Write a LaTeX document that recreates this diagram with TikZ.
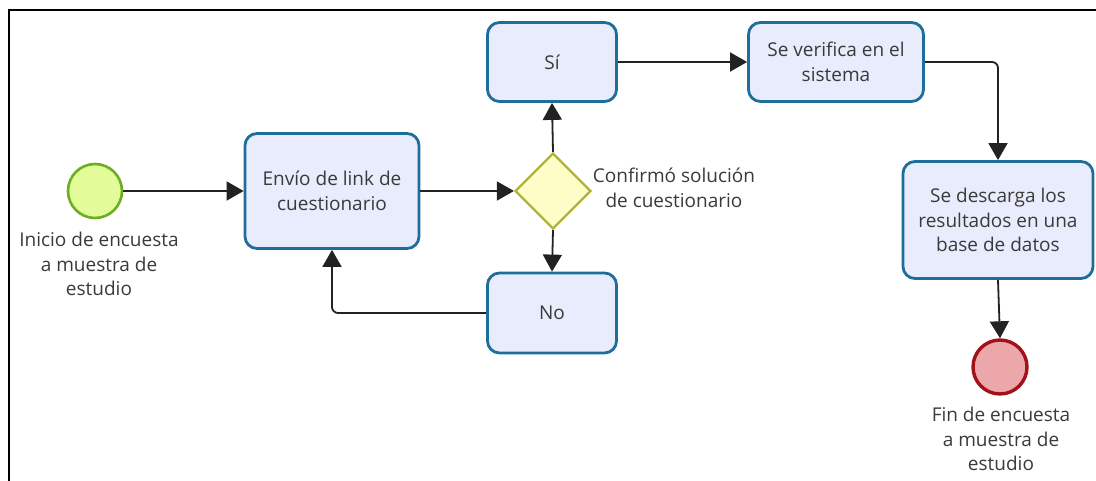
\documentclass[tikz,border=0pt]{standalone}
\usepackage{fontspec}
\setmainfont{Open Sans}
\usetikzlibrary{shapes.geometric,arrows.meta}

\definecolor{taskfill}{HTML}{E8ECFC}
\definecolor{taskline}{HTML}{1E6E9A}
\definecolor{startfill}{HTML}{E2FC9A}
\definecolor{startline}{HTML}{6AAE22}
\definecolor{gatefill}{HTML}{FDFDC8}
\definecolor{gateline}{HTML}{B2B23A}
\definecolor{endfill}{HTML}{EBA7A9}
\definecolor{endline}{HTML}{A3121A}
\definecolor{flowline}{HTML}{222222}
\definecolor{txt}{HTML}{3A3A3A}

\tikzset{
  txtstyle/.style={font=\fontsize{19}{24.5}\selectfont, text=txt, align=center},
  task/.style={txtstyle, draw=taskline, fill=taskfill, line width=2.8pt,
    rounded corners=12pt, inner sep=2pt},
  startev/.style={circle, draw=startline, fill=startfill, line width=2.6pt,
    minimum size=54pt, inner sep=0pt},
  endev/.style={circle, draw=endline, fill=endfill, line width=3.4pt,
    minimum size=54pt, inner sep=0pt},
  gateway/.style={diamond, aspect=1, draw=gateline, fill=gatefill, line width=2.2pt,
    minimum size=76pt, inner sep=0pt},
  evlabel/.style={txtstyle},
  flow/.style={draw=flowline, line width=1.8pt,
    -{Triangle[length=17pt,width=19pt]}, rounded corners=6pt}
}

\begin{document}
\begin{tikzpicture}[x=1pt,y=-1pt]
\useasboundingbox (0,0) rectangle (1096,481);

% outer frame
\draw[line width=2pt, black] (9,481) -- (9,10) -- (1096,10);

% events
\node[startev] (start) at (95,191) {};
\node[evlabel] (startlbl) at (99,264) {Inicio de encuesta\\a muestra de\\estudio};
\node[endev] (fin) at (1000,367) {};
\node[evlabel] (finlbl) at (1001,439) {Fin de encuesta\\a muestra de\\estudio};

% tasks
\node[task, minimum width=174pt, minimum height=115pt] (envio) at (332,191) {Envío de link de\\cuestionario};
\node[task, minimum width=129pt, minimum height=79pt] (si) at (552,62) {Sí};
\node[task, minimum width=129pt, minimum height=80pt] (no) at (552,313) {No};
\node[task, minimum width=175pt, minimum height=79pt] (verif) at (836,62) {Se verifica en el\\sistema};
\node[task, minimum width=190pt, minimum height=117pt] (desc) at (998,220) {Se descarga los\\resultados en una\\base de datos};

% gateway
\node[gateway] (gate) at (553,191) {};
\node[evlabel] (gatelbl) at (674,188) {Confirmó solución\\de cuestionario};

% sequence flows
\draw[flow] (start) -- (envio);
\draw[flow] (envio) -- (gate);
\draw[flow] (gate.north) -- (si.south);
\draw[flow] (gate.south) -- (no.north);
\draw[flow] (no.west) -| (envio.south);
\draw[flow] (si.east) -- (verif.west);
\draw[flow] (verif.east) -| (desc.north);
\draw[flow] (desc.south) -- (fin.north);
\end{tikzpicture}
\end{document}
